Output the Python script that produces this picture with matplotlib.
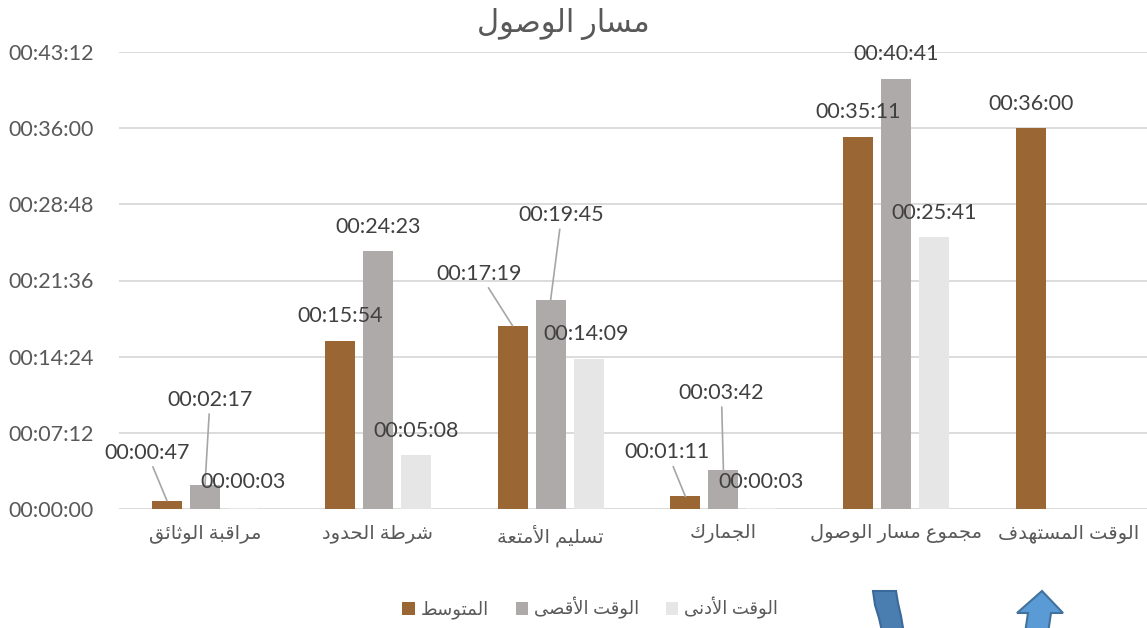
"""Arrival path timing chart (bar chart with data labels)."""

import matplotlib

matplotlib.use("Agg")
import matplotlib.pyplot as plt
from matplotlib.patches import Polygon

plt.rcParams["font.family"] = ["Lato", "DejaVu Sans"]

# data
title = "مسار الوصول"
categories = ["مراقبة الوثائق", "شرطة الحدود", "تسليم الأمتعة", "الجمارك",
              "مجموع مسار الوصول", "الوقت المستهدف"]
series_names = ["المتوسط", "الوقت الأقصى", "الوقت الأدنى"]
avg_times = ["00:00:47", "00:15:54", "00:17:19", "00:01:11", "00:35:11", "00:36:00"]
max_times = ["00:02:17", "00:24:23", "00:19:45", "00:03:42", "00:40:41", None]
min_times = ["00:00:03", "00:05:08", "00:14:09", "00:00:03", "00:25:41", None]
y_ticks = ["00:00:00", "00:07:12", "00:14:24", "00:21:36", "00:28:48", "00:36:00", "00:43:12"]

colors = ["#9A6634", "#AEAAAA", "#E7E6E6"]

# label offsets (px) for each series/category, (dx, dy, leader line)
label_offsets = [
    [(-20, 48, True), (0, 25, False), (-33, 52, True), (-18, 44, True), (0, 25, False), (0, 24, False)],
    [(5, 85, True), (0, 24, False), (11, 85, True), (-2, 77, True), (0, 25, False), None],
    [(0, 26, False), (0, 24, False), (-2, 25, False), (0, 26, False), (0, 24, False), None],
]

# simple Arabic shaping: presentation forms + visual (reversed) order
FORMS = {
    "ا": (0xFE8D, 0xFE8E, None, None), "أ": (0xFE83, 0xFE84, None, None),
    "ب": (0xFE8F, 0xFE90, 0xFE91, 0xFE92), "ة": (0xFE93, 0xFE94, None, None),
    "ت": (0xFE95, 0xFE96, 0xFE97, 0xFE98), "ث": (0xFE99, 0xFE9A, 0xFE9B, 0xFE9C),
    "ج": (0xFE9D, 0xFE9E, 0xFE9F, 0xFEA0), "ح": (0xFEA1, 0xFEA2, 0xFEA3, 0xFEA4),
    "د": (0xFEA9, 0xFEAA, None, None), "ر": (0xFEAD, 0xFEAE, None, None),
    "س": (0xFEB1, 0xFEB2, 0xFEB3, 0xFEB4), "ش": (0xFEB5, 0xFEB6, 0xFEB7, 0xFEB8),
    "ص": (0xFEB9, 0xFEBA, 0xFEBB, 0xFEBC), "ط": (0xFEC1, 0xFEC2, 0xFEC3, 0xFEC4),
    "ع": (0xFEC9, 0xFECA, 0xFECB, 0xFECC), "ف": (0xFED1, 0xFED2, 0xFED3, 0xFED4),
    "ق": (0xFED5, 0xFED6, 0xFED7, 0xFED8), "ك": (0xFED9, 0xFEDA, 0xFEDB, 0xFEDC),
    "ل": (0xFEDD, 0xFEDE, 0xFEDF, 0xFEE0), "م": (0xFEE1, 0xFEE2, 0xFEE3, 0xFEE4),
    "ن": (0xFEE5, 0xFEE6, 0xFEE7, 0xFEE8), "ه": (0xFEE9, 0xFEEA, 0xFEEB, 0xFEEC),
    "و": (0xFEED, 0xFEEE, None, None), "ى": (0xFEEF, 0xFEF0, None, None),
    "ي": (0xFEF1, 0xFEF2, 0xFEF3, 0xFEF4), "ئ": (0xFE89, 0xFE8A, 0xFE8B, 0xFE8C),
}
LAM_ALEF = {"ا": (0xFEFB, 0xFEFC), "أ": (0xFEF7, 0xFEF8)}


def dual(ch):
    return ch in FORMS and FORMS[ch][2] is not None


def shape(text):
    out = []
    i = 0
    while i < len(text):
        ch = text[i]
        if ch not in FORMS:
            out.append(ch)
            i += 1
            continue
        prev = text[i - 1] if i > 0 else ""
        joins_prev = dual(prev) and not (out and out[-1] in ("\uFEFB", "\uFEFC", "\uFEF7", "\uFEF8"))
        nxt = text[i + 1] if i + 1 < len(text) else ""
        if ch == "ل" and nxt in LAM_ALEF:
            out.append(chr(LAM_ALEF[nxt][1 if joins_prev else 0]))
            i += 2
            continue
        joins_next = dual(ch) and nxt in FORMS
        isol, fin, ini, med = FORMS[ch]
        if joins_prev and joins_next:
            code = med
        elif joins_prev:
            code = fin
        elif joins_next:
            code = ini
        else:
            code = isol
        out.append(chr(code))
        i += 1
    return "".join(out)[::-1]


def to_sec(t):
    if t is None:
        return None
    h, m, s = (int(p) for p in t.split(":"))
    return h * 3600 + m * 60 + s


W, H = 1147, 628
fig = plt.figure(figsize=(W / 100, H / 100), dpi=100)
ax = fig.add_axes([118.6 / W, 1 - 509 / H, 1036.8 / W, 457 / H])

step, width = 0.22, 0.174
text_color = "#404040"
for k, (name, vals) in enumerate(zip(series_names, [avg_times, max_times, min_times])):
    xs = [i + (k - 1) * step for i, v in enumerate(vals) if v is not None]
    hs = [to_sec(v) for v in vals if v is not None]
    ax.bar(xs, hs, width=width, color=colors[k], label=shape(name), zorder=2)
    for i, v in enumerate(vals):
        if v is None:
            continue
        dx, dy, leader = label_offsets[k][i]
        x = i + (k - 1) * step
        ap = dict(arrowstyle="-", color="#A6A6A6", lw=1.2, shrinkA=1, shrinkB=0) if leader else None
        ax.annotate(v, xy=(x, to_sec(v)), xytext=(dx * 0.72, dy * 0.72),
                    textcoords="offset points", ha="center", va="center",
                    fontsize=15.5, color=text_color, arrowprops=ap, zorder=3,
                    annotation_clip=False)

ticks_sec = [to_sec(t) for t in y_ticks]
ax.set_ylim(0, ticks_sec[-1])
ax.set_yticks(ticks_sec)
ax.set_yticklabels(y_ticks, fontsize=15.5, color="#595959")
ax.set_xlim(-0.5, len(categories) - 0.5)
ax.set_xticks(range(len(categories)))
ax.set_xticklabels([shape(c) for c in categories], fontsize=14, color="#595959")
ax.tick_params(axis="y", length=0, pad=18)
ax.tick_params(axis="x", length=0, pad=11)
ax.grid(axis="y", color="#D9D9D9", lw=1.3, zorder=0)
for s in ax.spines.values():
    s.set_visible(False)

fig.text(563 / W, 1 - 24 / H, shape(title), ha="center", va="center",
         fontsize=22, color="#595959")

fig.legend(loc="center", bbox_to_anchor=(590 / W, 1 - 608 / H), ncol=3,
           frameon=False, fontsize=13, handlelength=0.7, handleheight=0.7,
           handletextpad=0.3, columnspacing=1.5, labelcolor="#595959")

# decorative arrows at the bottom edge (display pixels, origin bottom-left)
curved = [(873, 591), (896, 591), (898, 603), (901, 616), (905, 640),
          (884, 640), (879, 618), (875, 605)]
up_arrow = [(1042, 591), (1063, 613), (1051, 613), (1047, 640), (1024, 640),
            (1028, 613), (1017, 613)]
fig.patches.append(Polygon([(x, H - y) for x, y in curved], closed=True, transform=None,
                           facecolor="#4A7DB0", edgecolor="#3A6A99", lw=1.5))
fig.patches.append(Polygon([(x, H - y) for x, y in up_arrow], closed=True, transform=None,
                           facecolor="#5B9BD5", edgecolor="#41719C", lw=1.5))

fig.savefig("out.png", dpi=100)
